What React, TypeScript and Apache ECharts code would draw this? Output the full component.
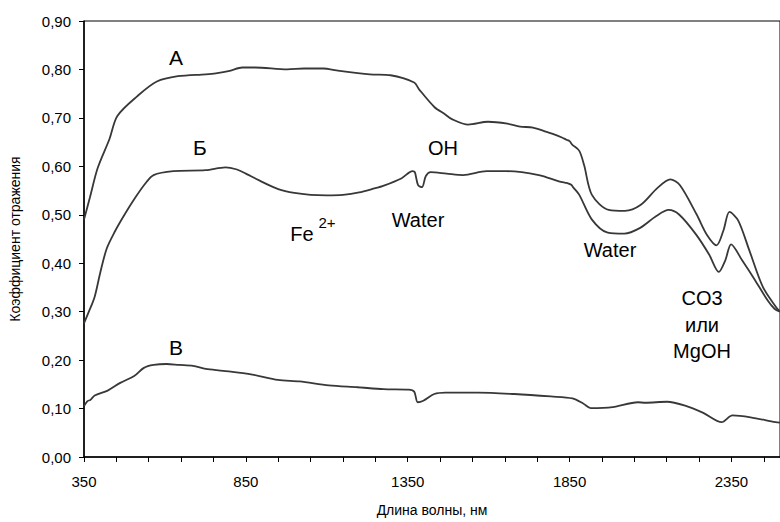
import React, { useEffect, useRef } from "react";
import * as echarts from "echarts";

// Wavelength (nm) and reflectance values
const nmA = [350, 368, 392, 429, 453, 515, 575, 640, 726, 757, 800, 839, 878, 978, 1030, 1090, 1130, 1233, 1297, 1370, 1385, 1433, 1464, 1485, 1537, 1598, 1658, 1697, 1737, 1779, 1798, 1828, 1840, 1850, 1858, 1880, 1895, 1919, 1971, 2021, 2069, 2121, 2161, 2191, 2243, 2274, 2304, 2325, 2344, 2371, 2405, 2447, 2487, 2500];
const reflA = [0.49, 0.535, 0.596, 0.657, 0.704, 0.745, 0.775, 0.786, 0.79, 0.792, 0.797, 0.804, 0.804, 0.8, 0.802, 0.802, 0.798, 0.79, 0.788, 0.773, 0.759, 0.722, 0.708, 0.698, 0.686, 0.692, 0.688, 0.682, 0.68, 0.671, 0.667, 0.659, 0.655, 0.652, 0.645, 0.632, 0.602, 0.541, 0.51, 0.508, 0.52, 0.555, 0.573, 0.561, 0.5, 0.459, 0.437, 0.467, 0.506, 0.488, 0.427, 0.351, 0.31, 0.3];

const nmB = [350, 365, 383, 400, 420, 445, 475, 508, 540, 565, 626, 726, 787, 820, 850, 900, 950, 1000, 1050, 1100, 1150, 1200, 1250, 1272, 1330, 1365, 1372, 1382, 1394, 1406, 1421, 1470, 1521, 1594, 1655, 1755, 1817, 1837, 1845, 1855, 1862, 1880, 1919, 1968, 2019, 2068, 2119, 2156, 2189, 2241, 2281, 2311, 2331, 2349, 2383, 2423, 2461, 2483, 2500];
const reflB = [0.276, 0.3, 0.331, 0.38, 0.43, 0.465, 0.5, 0.535, 0.565, 0.582, 0.59, 0.592, 0.598, 0.594, 0.585, 0.568, 0.553, 0.545, 0.541, 0.54, 0.541, 0.546, 0.555, 0.559, 0.575, 0.59, 0.588, 0.561, 0.557, 0.58, 0.588, 0.585, 0.582, 0.59, 0.59, 0.582, 0.569, 0.566, 0.565, 0.562, 0.556, 0.541, 0.49, 0.463, 0.461, 0.473, 0.498, 0.51, 0.5, 0.459, 0.418, 0.382, 0.406, 0.439, 0.406, 0.365, 0.324, 0.306, 0.3];

const nmV = [350, 360, 370, 383, 423, 462, 505, 535, 565, 605, 644, 687, 726, 780, 870, 949, 1016, 1106, 1196, 1275, 1353, 1370, 1381, 1398, 1432, 1466, 1567, 1679, 1792, 1859, 1893, 1915, 1983, 2061, 2084, 2151, 2207, 2263, 2320, 2353, 2409, 2486, 2500];
const reflV = [0.105, 0.115, 0.118, 0.127, 0.137, 0.153, 0.167, 0.184, 0.19, 0.192, 0.19, 0.188, 0.182, 0.178, 0.17, 0.159, 0.156, 0.148, 0.144, 0.14, 0.139, 0.135, 0.113, 0.116, 0.13, 0.133, 0.133, 0.13, 0.125, 0.121, 0.11, 0.101, 0.103, 0.113, 0.112, 0.114, 0.106, 0.091, 0.072, 0.086, 0.082, 0.072, 0.071];

const X_START = 350;
const X_END = 2500;
const X_LABEL_STEP = 500;
const Y_MAX = 0.9;

const FONT = '"Liberation Sans", Arial, sans-serif';
const LINE_COLOR = "#383838";

function toPairs(nm: number[], v: number[]) {
  return nm.map((x, i) => [x - X_START, v[i]]);
}

export default function App() {
  const ref = useRef<HTMLDivElement>(null);
  useEffect(() => {
    if (!ref.current) return;
    const chart = echarts.init(ref.current, null, { renderer: "svg" });
    const lineSeries = (name: string, data: number[][]) => ({
      name,
      type: "line",
      data,
      showSymbol: false,
      smooth: 0.3,
      lineStyle: { color: LINE_COLOR, width: 1.8 },
      z: 3,
    });
    const txt = (text: string, x: number, y: number, size: number) => ({
      type: "text",
      x,
      y,
      style: {
        text,
        fill: "#000",
        font: `${size}px ${FONT}`,
        textAlign: "center",
        textVerticalAlign: "middle",
        verticalAlign: "middle",
      },
    });
    chart.setOption({
      animation: false,
      backgroundColor: "#fff",
      textStyle: { fontFamily: FONT },
      grid: {
        left: 76,
        top: 21,
        right: -4,
        bottom: 60,
        show: true,
        borderColor: "#000",
        borderWidth: 1,
      },
      xAxis: {
        type: "value",
        min: 0,
        max: X_END - X_START,
        interval: 100,
        name: "Длина волны, нм",
        nameLocation: "middle",
        nameGap: 46,
        nameTextStyle: { color: "#000", fontSize: 14, fontFamily: FONT },
        axisLine: { show: true, lineStyle: { color: "#000", width: 1.5 } },
        axisTick: { show: true, length: 5, lineStyle: { color: "#000" } },
        axisLabel: {
          color: "#000",
          fontSize: 15,
          fontFamily: FONT,
          margin: 17,
          showMaxLabel: false,
          formatter: (v: number) => (v % X_LABEL_STEP === 0 ? String(v + X_START) : ""),
        },
        splitLine: { show: false },
      },
      yAxis: {
        type: "value",
        min: 0,
        max: Y_MAX,
        interval: 0.1,
        name: "Коэффициент отражения",
        nameLocation: "middle",
        nameRotate: 90,
        nameGap: 62,
        nameTextStyle: { color: "#000", fontSize: 14, fontFamily: FONT },
        axisLine: { show: true, lineStyle: { color: "#000", width: 1.5 } },
        axisTick: { show: true, length: 5, lineStyle: { color: "#000" } },
        axisLabel: {
          color: "#000",
          fontSize: 15,
          fontFamily: FONT,
          margin: 13,
          formatter: (v: number) => v.toFixed(2).replace(".", ","),
        },
        splitLine: { show: false },
      },
      series: [
        lineSeries("А", toPairs(nmA, reflA)),
        lineSeries("Б", toPairs(nmB, reflB)),
        lineSeries("В", toPairs(nmV, reflV)),
      ],
      graphic: [
        txt("А", 176, 57, 21),
        txt("Б", 200, 147, 21),
        txt("В", 176, 347, 21),
        txt("OH", 443, 148, 20),
        txt("Fe", 302, 234, 20),
        txt("2+", 327, 222, 15),
        txt("Water", 418, 220, 20),
        txt("Water", 610, 250, 20),
        txt("CO3", 702, 298, 20),
        txt("или", 702, 325, 20),
        txt("MgOH", 702, 351, 20),
      ],
    });
    return () => chart.dispose();
  }, []);
  return (
    <div
      ref={ref}
      style={{ position: "absolute", left: 0, top: 0, width: 780, height: 522 }}
    />
  );
}
